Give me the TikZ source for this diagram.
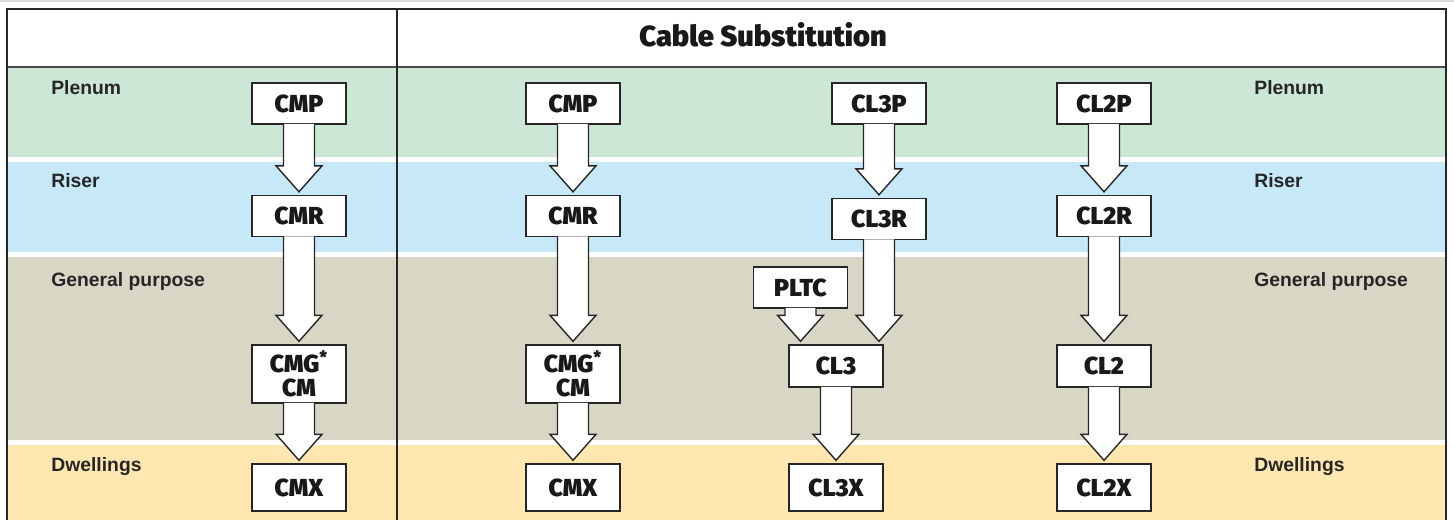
\documentclass[tikz,border=0pt]{standalone}
\usepackage{fontspec}
\setmainfont{Liberation Sans}
\newfontfamily\heavyfont{Fira Sans Black}
\usetikzlibrary{calc,scopes}

\definecolor{plenumgreen}{HTML}{CDE7D6}
\definecolor{risercyan}{HTML}{C6E8F7}
\definecolor{generaltan}{HTML}{D8D6C4}
\definecolor{dwellyellow}{HTML}{FFE7AF}

% fat white arrow from one box down to the next
\newcommand\cablearrow[2]{%
  \draw[flow] ($(#1.south)+(-15.5,-0.7)$) -- ($(#1.south |- #2.north)+(-15.5,-29)$)
    -- ++(-7.5,0) -- ($(#1.south |- #2.north)+(0,-3)$) -- ++(23,-26) -- ++(-7.5,0)
    -- ($(#1.south)+(15.5,-0.7)$);}

\begin{document}
\begin{tikzpicture}[
    x=0.02cm, y=-0.02cm,
    box/.style={rectangle,draw=black!85,fill=white,line width=0.8pt,
        minimum width=1.88cm,minimum height=0.82cm,inner sep=0pt,align=center,
        font=\heavyfont\fontsize{14}{13.6}\selectfont,text=black!90},
    flow/.style={draw=black!85,fill=white,line width=0.8pt,line join=miter},
    zone/.style={anchor=base west,inner sep=0pt,text=black!85,font=\bfseries\fontsize{11}{13}\selectfont},
    frame/.style={draw=black!85,line width=1.2pt},
]
\useasboundingbox (0,0) rectangle (1454,520);

%%%
% Bands
\fill[plenumgreen] (7,67) rectangle (1446,157);
\fill[risercyan] (7,162.5) rectangle (1446,252);
\fill[generaltan] (7,257) rectangle (1446,440);
\fill[dwellyellow] (7,445) rectangle (1446,520);
\draw[black!15,line width=1pt] (0,0.8) -- (1454,0.8);
\draw[black!70,line width=0.8pt] (7,67) -- (1446,67);
\draw[frame] (7,522) -- (7,9) -- (1446,9) -- (1446,522);
\draw[frame] (397,9) -- (397,522);

\node[font=\heavyfont\fontsize{16.5}{18}\selectfont,anchor=base,text=black!90] (title) at (763,47) {Cable Substitution};

\node[zone] (plenumL) at (51,95) {Plenum};
\node[zone] (riserL) at (51,188) {Riser};
\node[zone] (generalL) at (51,287) {General purpose};
\node[zone] (dwellL) at (51,471) {Dwellings};
\node[zone] (plenumR) at (1254,95) {Plenum};
\node[zone] (riserR) at (1254,188) {Riser};
\node[zone] (generalR) at (1254,287) {General purpose};
\node[zone] (dwellR) at (1254,471) {Dwellings};

%%%
% Left column
\node[box] (cmpA) at (299,103.5) {CMP};
\node[box] (cmrA) at (299,216) {CMR};
\node[box,minimum height=1.16cm] (cmgA) at (299,374) {CMG\textsuperscript{*}\\CM};
\node[box,minimum height=0.94cm] (cmxA) at (299,487.5) {CMX};

%%%
% Substitution columns
\node[box] (cmpB) at (573,103.5) {CMP};
\node[box] (cmrB) at (573,216) {CMR};
\node[box,minimum height=1.16cm] (cmgB) at (573,374) {CMG\textsuperscript{*}\\CM};
\node[box,minimum height=0.94cm] (cmxB) at (573,487.5) {CMX};

\node[box] (cl3p) at (879,103.5) {CL3P};
\node[box] (cl3r) at (879,219) {CL3R};
\node[box] (pltc) at (800.5,287.5) {PLTC};
\node[box,minimum height=0.84cm] (cl3) at (836,366) {CL3};
\node[box,minimum height=0.94cm] (cl3x) at (836,487.5) {CL3X};

\node[box] (cl2p) at (1104,103.5) {CL2P};
\node[box] (cl2r) at (1104,216) {CL2R};
\node[box,minimum height=0.84cm] (cl2) at (1104,366) {CL2};
\node[box,minimum height=0.94cm] (cl2x) at (1104,487.5) {CL2X};

\cablearrow{cmpA}{cmrA}
\cablearrow{cmrA}{cmgA}
\cablearrow{cmgA}{cmxA}
\cablearrow{cmpB}{cmrB}
\cablearrow{cmrB}{cmgB}
\cablearrow{cmgB}{cmxB}
\cablearrow{cl3p}{cl3r}
\cablearrow{cl3r}{cl3}
\cablearrow{pltc}{cl3}
\cablearrow{cl3}{cl3x}
\cablearrow{cl2p}{cl2r}
\cablearrow{cl2r}{cl2}
\cablearrow{cl2}{cl2x}
\end{tikzpicture}
\end{document}
